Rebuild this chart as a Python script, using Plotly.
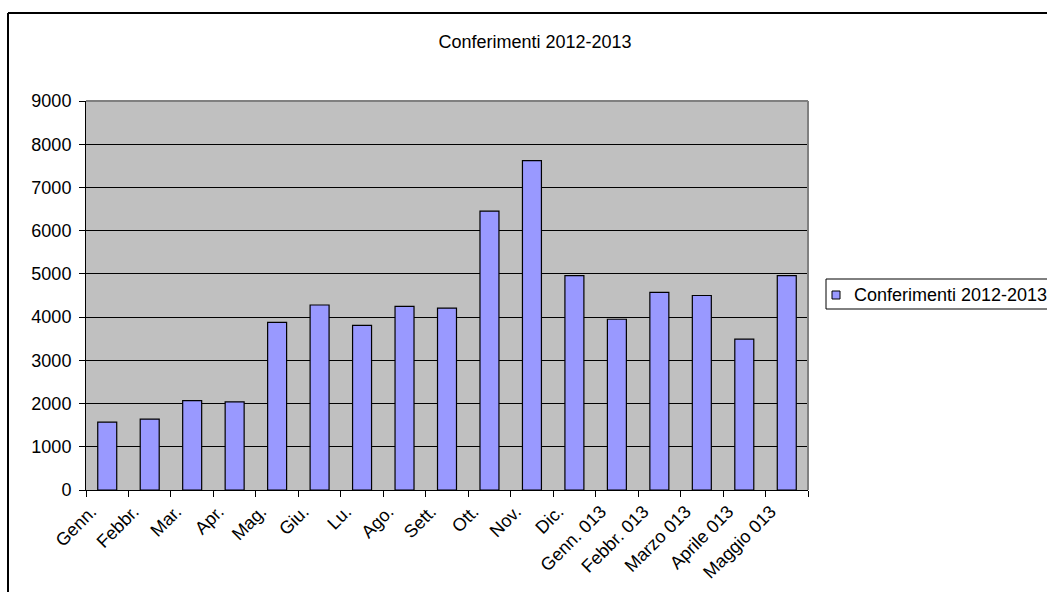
import plotly.graph_objects as go

categories = ["Genn.", "Febbr.", "Mar.", "Apr.", "Mag.", "Giu.", "Lu.", "Ago.", "Sett.",
              "Ott.", "Nov.", "Dic.", "Genn. 013", "Febbr. 013", "Marzo 013",
              "Aprile 013", "Maggio 013"]
values = [1570, 1640, 2070, 2040, 3880, 4280, 3810, 4250, 4210,
          6450, 7620, 4960, 3950, 4570, 4500, 3490, 4960]
series_name = "Conferimenti 2012-2013"
y_ticks = [0, 1000, 2000, 3000, 4000, 5000, 6000, 7000, 8000, 9000]

FONT = "Liberation Sans, Arial, sans-serif"
FS = 18
W, H = 1047, 592
L, R, T, B = 86, 808, 101, 490  # plot area in pixels


def px(xpix):
    return (xpix - L) / (R - L)


def py(ypix):
    return (B - ypix) / (B - T)


fig = go.Figure()
fig.add_trace(go.Bar(
    x=categories, y=values, name=series_name,
    marker=dict(color="#9999FF", line=dict(color="black", width=1.2)),
    showlegend=False,
))

shapes = [
    # plot area top and right border (gray)
    dict(type="line", xref="paper", yref="paper", x0=0, x1=1, y0=1, y1=1,
         line=dict(color="#808080", width=2), layer="above"),
    dict(type="line", xref="paper", yref="paper", x0=1, x1=1, y0=0, y1=1,
         line=dict(color="#808080", width=2), layer="above"),
    # outer chart frame
    dict(type="line", xref="paper", yref="paper", x0=px(8), x1=px(8), y0=py(13), y1=py(620),
         line=dict(color="black", width=2)),
    dict(type="line", xref="paper", yref="paper", x0=px(8), x1=px(1070), y0=py(13), y1=py(13),
         line=dict(color="black", width=2)),
    # legend box
    dict(type="rect", xref="paper", yref="paper", x0=px(826), x1=px(1080), y0=py(279), y1=py(309),
         line=dict(color="black", width=1), fillcolor="white"),
    # legend swatch
    dict(type="rect", xref="paper", yref="paper", x0=px(832), x1=px(840), y0=py(291), y1=py(299),
         line=dict(color="black", width=1), fillcolor="#9999FF"),
]

annotations = [
    dict(text=series_name, xref="paper", yref="paper", x=px(852), y=py(294.5),
         xanchor="left", yanchor="middle", showarrow=False,
         font=dict(family=FONT, size=FS, color="black")),
]

fig.update_layout(
    width=W, height=H,
    margin=dict(l=L, r=W - R, t=T, b=H - B, autoexpand=False),
    paper_bgcolor="white",
    plot_bgcolor="#C0C0C0",
    font=dict(family=FONT, size=FS, color="black"),
    bargap=0.553,
    showlegend=False,
    title=dict(text=series_name, x=px(535), xref="paper", xanchor="center",
               y=1 - 42 / H, yanchor="middle", font=dict(family=FONT, size=FS, color="black")),
    xaxis=dict(
        type="category", tickangle=-45, ticks="outside", ticklen=6, tickwidth=1,
        tickcolor="black", tickson="boundaries", showline=True, linecolor="black",
        linewidth=1, showgrid=False, tickfont=dict(family=FONT, size=FS, color="black"),
        ticklabelshift=-16, ticklabelstandoff=3,
    ),
    yaxis=dict(
        range=[0, 9000], tickvals=y_ticks, ticks="outside", ticklen=6, tickwidth=1,
        tickcolor="black", showline=True, linecolor="black", linewidth=1,
        showgrid=True, gridcolor="black", gridwidth=1, zeroline=False,
        tickfont=dict(family=FONT, size=FS, color="black"),
        ticklabelstandoff=4,
    ),
    shapes=shapes,
    annotations=annotations,
)

fig.write_html("out.html", config={"displayModeBar": False},
               post_script="document.body.style.margin='0';document.body.style.overflow='hidden';")
